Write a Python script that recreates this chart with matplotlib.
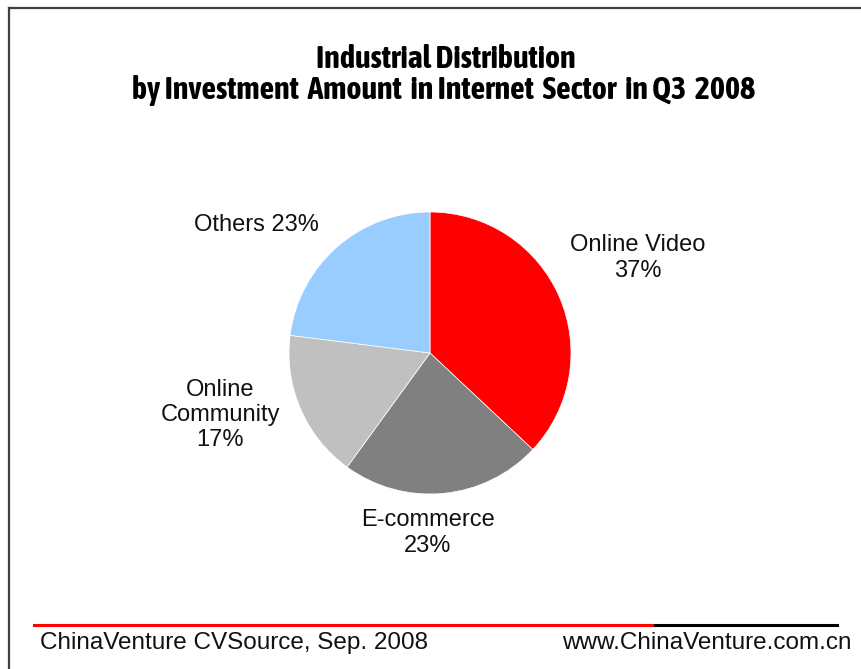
import matplotlib
matplotlib.use("Agg")
from matplotlib import pyplot as plt
from matplotlib import font_manager
from matplotlib.lines import Line2D

# data
sectors = ["Online Video", "E-commerce", "Online Community", "Others"]
shares = [37, 23, 17, 23]
colors = ["#FF0000", "#808080", "#C0C0C0", "#99CCFF"]
label_text = ["Online Video\n37%", "E-commerce\n23%", "Online\nCommunity\n17%", "Others 23%"]
label_pos = [(638, 258), (428, 533), (220, 415), (256, 225)]   # pixel centres

W, H = 861, 669
fig = plt.figure(figsize=(W / 100, H / 100), dpi=100)
fig.patch.set_facecolor("white")

def px(x, y):
    return x / W, 1 - y / H

# narrow bold face for the title if one is installed
narrow = sorted({f.name for f in font_manager.fontManager.ttflist
                 if ("Narrow" in f.name or "Condensed" in f.name) and f.weight in (700, "bold")})
title_fam = narrow[:1] + ["Liberation Sans", "DejaVu Sans"]

# frame (left + top)
fig.add_artist(Line2D([9 / W, 9 / W], [0, 1 - 8 / H], color="#404040", lw=1.6))
fig.add_artist(Line2D([9 / W, 1], [1 - 8 / H, 1 - 8 / H], color="#404040", lw=1.6))

# title
tfont = dict(family=title_fam, weight="bold", fontsize=23, ha="center", va="center")
fig.text(*px(446, 59), "Industrial Distribution", **tfont)
fig.text(*px(444, 90), "by Investment  Amount  in Internet  Sector  in Q3  2008", **tfont)

# pie
cx, cy, r = 430, 353, 141
ax = fig.add_axes([(cx - r) / W, 1 - (cy + r) / H, 2 * r / W, 2 * r / H])
ax.pie(shares, colors=colors, startangle=90, counterclock=False,
       wedgeprops=dict(linewidth=0.5, edgecolor="white"))
ax.set_xlim(-1, 1)
ax.set_ylim(-1, 1)
ax.axis("off")

lfont = dict(family=["Liberation Sans", "DejaVu Sans"], fontsize=17, ha="center", va="center",
             color="#111111", linespacing=1.2)
for txt, (x, y) in zip(label_text, label_pos):
    fig.text(*px(x, y), txt, **lfont)

# footer
fig.add_artist(Line2D([34 / W, 655 / W], [1 - 625 / H] * 2, color="#FF0000", lw=2.2))
fig.add_artist(Line2D([655 / W, 837 / W], [1 - 625 / H] * 2, color="#000000", lw=2.2))
ffont = dict(family=["Liberation Sans", "DejaVu Sans"], fontsize=17.5, va="center", color="#111111")
fig.text(*px(40, 643), "ChinaVenture CVSource, Sep. 2008", ha="left", **ffont)
fig.text(*px(852, 643), "www.ChinaVenture.com.cn", ha="right", **ffont)

fig.savefig("out.png", dpi=100)
